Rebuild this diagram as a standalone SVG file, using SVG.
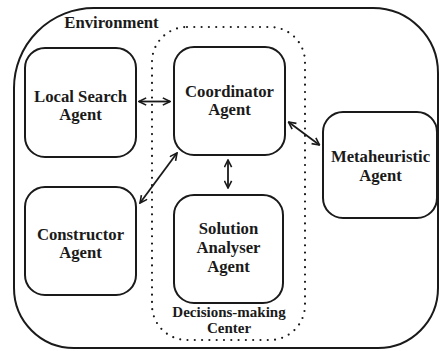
<svg xmlns="http://www.w3.org/2000/svg" width="440" height="351" viewBox="0 0 440 351">
  <style>
    .frame { fill: none; stroke: #1a1a1a; stroke-width: 2; }
    .box { fill: #ffffff; stroke: #1a1a1a; stroke-width: 2; }
    .zone { fill: none; stroke: #1a1a1a; stroke-width: 2.2; stroke-dasharray: 0 7.3; stroke-linecap: round; }
    .label { font-family: "Liberation Serif", "Times New Roman", serif; font-weight: bold; font-size: 16.7px; fill: #1a1a1a; text-anchor: middle; }
    .small { font-size: 15px; }
    .link { fill: none; stroke: #1a1a1a; stroke-width: 1.8; marker-start: url(#head); marker-end: url(#head); }
  </style>
  <defs>
    <marker id="head" viewBox="0 0 10 10" refX="9" refY="5" markerWidth="9" markerHeight="9" markerUnits="userSpaceOnUse" orient="auto-start-reverse">
      <polyline points="1,1 9,5 1,9" fill="none" stroke="#1a1a1a" stroke-width="1.8"/>
    </marker>
  </defs>

  <rect width="440" height="351" fill="#ffffff"/>

  <!-- Environment boundary -->
  <g id="environment">
    <path class="frame" d="M94,8 H373 A65,65 0 0 1 438,73 V288 A60,60 0 0 1 378,348 H74 A60,60 0 0 1 14,288 V88 A80,80 0 0 1 94,8 Z"/>
    <text class="label" x="111.5" y="28">Environment</text>
  </g>

  <!-- Decisions-making center (dotted zone) -->
  <g id="decision-center">
    <rect class="zone" x="152" y="27" width="153" height="313" rx="35"/>
    <text class="label small" x="229" y="317">Decisions-making</text>
    <text class="label small" x="229" y="333">Center</text>
  </g>

  <g id="local-search">
    <rect class="box" x="25" y="48" width="111" height="109" rx="20"/>
    <text class="label" x="80.5" y="102">Local Search</text>
    <text class="label" x="80.5" y="120">Agent</text>
  </g>

  <g id="coordinator">
    <rect class="box" x="174" y="47" width="111" height="108" rx="20"/>
    <text class="label" x="229.5" y="97">Coordinator</text>
    <text class="label" x="229.5" y="115">Agent</text>
  </g>

  <g id="metaheuristic">
    <rect class="box" x="323" y="112" width="114" height="106" rx="20"/>
    <text class="label" x="380.5" y="162">Metaheuristic</text>
    <text class="label" x="380.5" y="181">Agent</text>
  </g>

  <g id="constructor">
    <rect class="box" x="25" y="187" width="111" height="108" rx="20"/>
    <text class="label" x="80.5" y="240">Constructor</text>
    <text class="label" x="80.5" y="258">Agent</text>
  </g>

  <g id="solution-analyser">
    <rect class="box" x="174" y="195" width="109" height="108" rx="20"/>
    <text class="label" x="228.5" y="234">Solution</text>
    <text class="label" x="228.5" y="253">Analyser</text>
    <text class="label" x="228.5" y="272">Agent</text>
  </g>

  <!-- Bidirectional links -->
  <g id="connectors">
    <line class="link" x1="139" y1="101.5" x2="170" y2="101.5"/>
    <line class="link" x1="177" y1="153" x2="140" y2="203"/>
    <line class="link" x1="228" y1="160" x2="228" y2="188"/>
    <line class="link" x1="288.5" y1="122" x2="319.5" y2="145"/>
  </g>
</svg>
